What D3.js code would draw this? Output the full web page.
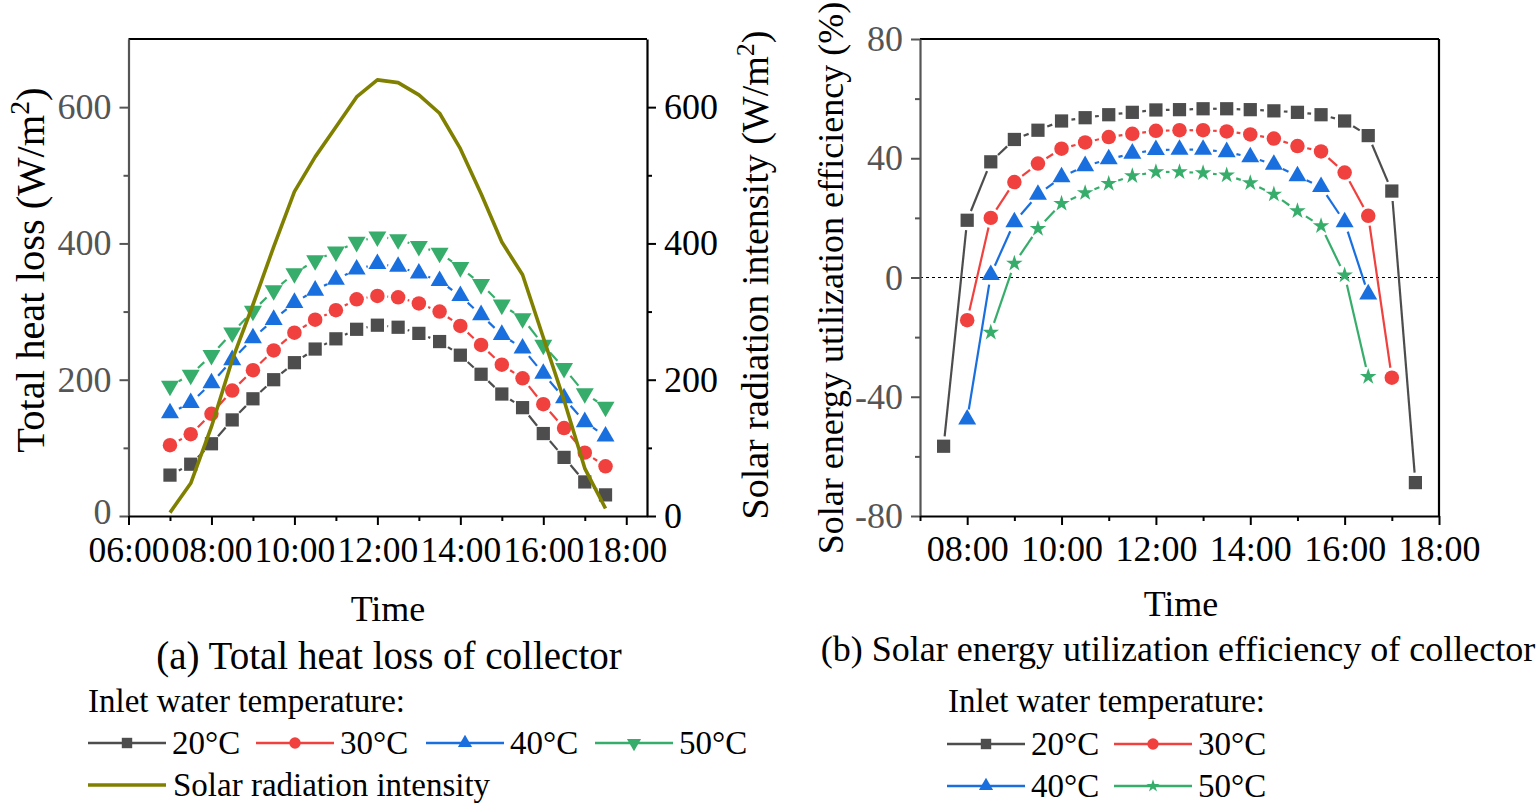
<!DOCTYPE html>
<html>
<head>
<meta charset="utf-8">
<script src="https://cdn.jsdelivr.net/npm/d3@7"></script>
<style>
  body { margin: 0; background: #fff; }
  svg { display: block; font-family: "Liberation Serif", "Times New Roman", serif; }
</style>
</head>
<body>
<svg id="fig" width="1536" height="807"></svg>
<script>
// ---- data ----

// (a) total heat loss, every half hour from 07:00 to 17:30
const hoursA = [7, 7.5, 8, 8.5, 9, 9.5, 10, 10.5, 11, 11.5, 12, 12.5, 13, 13.5, 14, 14.5, 15, 15.5, 16, 16.5, 17, 17.5];
const heatLoss20 = [60, 76, 106, 141, 172, 200, 225, 245, 260, 274, 280, 277, 268, 256, 236, 208, 179, 159, 121, 86, 50, 31];
const heatLoss30 = [104, 120, 150, 184, 214, 243, 269, 288, 302, 318, 323, 321, 312, 300, 279, 251, 222, 202, 164, 129, 93, 73];
const heatLoss40 = [151, 166, 195, 229, 261, 288, 313, 331, 347, 362, 370, 366, 356, 345, 323, 295, 266, 246, 209, 173, 138, 117];
const heatLoss50 = [191, 207, 236, 269, 301, 331, 356, 375, 388, 402, 410, 406, 396, 386, 365, 340, 310, 290, 251, 217, 180, 160];
const solarIntensity = [5, 48, 131, 229, 310, 395, 476, 527, 571, 615, 640, 636, 618, 591, 539, 473, 402, 354, 262, 170, 70, 11];

// (b) solar energy utilization efficiency
const hoursEff20 = [7.5, 8, 8.5, 9, 9.5, 10, 10.5, 11, 11.5, 12, 12.5, 13, 13.5, 14, 14.5, 15, 15.5, 16, 16.5, 17, 17.5];
const eff20 = [-56.6, 19.2, 38.8, 46.3, 49.4, 52.5, 53.6, 54.6, 55.4, 56.2, 56.3, 56.6, 56.6, 56.3, 55.9, 55.4, 54.6, 52.5, 47.6, 29, -68.8];
const hoursEff30 = [8, 8.5, 9, 9.5, 10, 10.5, 11, 11.5, 12, 12.5, 13, 13.5, 14, 14.5, 15, 15.5, 16, 16.5, 17];
const eff30 = [-14.3, 20, 32, 38.2, 43.2, 45.3, 47.1, 48.2, 49.2, 49.4, 49.4, 49, 48, 46.6, 44.1, 42.3, 35.2, 20.7, -33.6];
const hoursEff40 = [8, 8.5, 9, 9.5, 10, 10.5, 11, 11.5, 12, 12.5, 13, 13.5, 14, 14.5, 15, 15.5, 16, 16.5];
const eff40 = [-47.6, 0.9, 18.6, 27.8, 33.7, 37.4, 39.7, 41.6, 42.8, 42.9, 42.9, 42.1, 40.4, 37.9, 34, 30.4, 18.6, -5.6];
const hoursEff50 = [8.5, 9, 9.5, 10, 10.5, 11, 11.5, 12, 12.5, 13, 13.5, 14, 14.5, 15, 15.5, 16, 16.5];
const eff50 = [-18.4, 4.7, 16.4, 24.8, 28.4, 31.5, 34.1, 35.4, 35.4, 35.1, 34.3, 31.7, 27.9, 22.3, 17.3, 0.8, -33.3];

// ticks
const xMajorA = [6, 8, 10, 12, 14, 16, 18];
const xMinorA = [7, 9, 11, 13, 15, 17];
const xLabelsA = ["06:00", "08:00", "10:00", "12:00", "14:00", "16:00", "18:00"];
const xMajorB = [8, 10, 12, 14, 16, 18];
const xMinorB = [7, 9, 11, 13, 15, 17];
const xLabelsB = ["08:00", "10:00", "12:00", "14:00", "16:00", "18:00"];
const yMajorA = [0, 200, 400, 600];
const yMinorA = [100, 300, 500];
const yMajorB = [-80, -40, 0, 40, 80];
const yMinorB = [-60, -20, 20, 60];

const tempLabels = ["20°C", "30°C", "40°C", "50°C"];
const colors = ["#4d4d4d", "#f0413f", "#1a6fdf", "#37ad6b"];
const olive = "#808000";
const axisGray = "#555555";

const svg = d3.select("#fig");

// scales
const xA = d3.scaleLinear().domain([6, 18.5]).range([128.5, 647]);
const yA = d3.scaleLinear().domain([0, 700]).range([516, 39]);
const xB = d3.scaleLinear().domain([7, 18]).range([920, 1439]);
const yB = d3.scaleLinear().domain([-80, 80]).range([516, 39]);

// marker shapes
const markerA = [
  { type: d3.symbolSquare, size: 175, rot: 0 },
  { type: d3.symbolCircle, size: 165, rot: 0 },
  { type: d3.symbolTriangle, size: 140, rot: 0 },
  { type: d3.symbolTriangle, size: 140, rot: 180 }
];
const markerB = [
  { type: d3.symbolSquare, size: 175, rot: 0 },
  { type: d3.symbolCircle, size: 165, rot: 0 },
  { type: d3.symbolTriangle, size: 140, rot: 0 },
  { type: d3.symbolStar, size: 85, rot: 0 }
];

function styleAxis(g, lineColor, textColor, fontSize) {
  g.select(".domain").attr("stroke", lineColor).attr("stroke-width", 2.2);
  g.selectAll(".tick line").attr("stroke", lineColor).attr("stroke-width", 2);
  g.selectAll(".tick text")
    .attr("fill", textColor)
    .attr("font-size", fontSize)
    .attr("font-family", "Liberation Serif, Times New Roman, serif");
}

function addAxis(axis, tx, ty, lineColor, textColor, fontSize) {
  const g = svg.append("g").attr("transform", `translate(${tx},${ty})`).call(axis);
  styleAxis(g, lineColor, textColor, fontSize || 36);
  return g;
}

function minorAxis(axis, tx, ty, lineColor) {
  const g = svg.append("g").attr("transform", `translate(${tx},${ty})`).call(axis);
  g.select(".domain").remove();
  g.selectAll(".tick line").attr("stroke", lineColor).attr("stroke-width", 2);
  g.selectAll(".tick text").remove();
}

// plain hyphen for negative numbers, as in the original
const plainNum = d => String(d);

// line with a small gap before each symbol
function gapLine(pts, color, gap, width) {
  const segs = [];
  for (let i = 0; i < pts.length - 1; i++) {
    const [x0, y0] = pts[i], [x1, y1] = pts[i + 1];
    const dx = x1 - x0, dy = y1 - y0, len = Math.hypot(dx, dy);
    if (len <= 2 * gap) continue;
    const ux = dx / len, uy = dy / len;
    segs.push([x0 + ux * gap, y0 + uy * gap, x1 - ux * gap, y1 - uy * gap]);
  }
  svg.append("g").selectAll("line").data(segs).enter().append("line")
    .attr("x1", d => d[0]).attr("y1", d => d[1])
    .attr("x2", d => d[2]).attr("y2", d => d[3])
    .attr("stroke", color).attr("stroke-width", width);
}

function drawMarkers(pts, color, m) {
  svg.append("g").selectAll("path").data(pts).enter().append("path")
    .attr("d", d3.symbol().type(m.type).size(m.size)())
    .attr("transform", d => `translate(${d[0]},${d[1]}) rotate(${m.rot})`)
    .attr("fill", color);
}

function series(xs, ys, xScale, yScale, color, m, gap) {
  const pts = xs.map((h, i) => [xScale(h), yScale(ys[i])]);
  gapLine(pts, color, gap, 2.2);
  drawMarkers(pts, color, m);
}

// ================= (a) =================
// frame top
svg.append("line").attr("x1", xA.range()[0]).attr("x2", xA.range()[1])
  .attr("y1", yA.range()[1]).attr("y2", yA.range()[1])
  .attr("stroke", "#000").attr("stroke-width", 2.2);

const heatSeries = [heatLoss20, heatLoss30, heatLoss40, heatLoss50];
heatSeries.forEach((vals, k) => series(hoursA, vals, xA, yA, colors[k], markerA[k], 10));

// solar radiation (right axis, same range)
svg.append("path")
  .datum(hoursA.map((h, i) => [h, solarIntensity[i]]))
  .attr("fill", "none").attr("stroke", olive).attr("stroke-width", 3.6)
  .attr("stroke-linejoin", "round")
  .attr("d", d3.line().x(d => xA(d[0])).y(d => yA(d[1])));

minorAxis(d3.axisLeft(yA).tickValues(yMinorA).tickSize(5), xA.range()[0], 0, axisGray);
const leftAxisA = addAxis(d3.axisLeft(yA).tickValues(yMajorA).tickSize(9).tickPadding(8).tickSizeOuter(0), xA.range()[0], 0, axisGray, axisGray);
// the "0" label sits just above the time labels
leftAxisA.selectAll(".tick text").filter(d => d === 0).attr("dy", "0.2em");
minorAxis(d3.axisRight(yA).tickValues(yMinorA).tickSize(5), xA.range()[1], 0, "#000");
addAxis(d3.axisRight(yA).tickValues(yMajorA).tickSize(9).tickPadding(8).tickSizeOuter(0), xA.range()[1], 0, "#000", "#000");
minorAxis(d3.axisBottom(xA).tickValues(xMinorA).tickSize(5), 0, yA.range()[0], "#000");
addAxis(d3.axisBottom(xA).tickValues(xMajorA).tickFormat((d, i) => xLabelsA[i]).tickSize(9).tickPadding(12).tickSizeOuter(0),
  0, yA.range()[0], "#000", "#000", 35.5);

// ================= (b) =================
svg.append("line").attr("x1", xB.range()[0]).attr("x2", xB.range()[1])
  .attr("y1", yB.range()[1]).attr("y2", yB.range()[1])
  .attr("stroke", "#000").attr("stroke-width", 2.2);
svg.append("line").attr("x1", xB.range()[1]).attr("x2", xB.range()[1])
  .attr("y1", yB.range()[1]).attr("y2", yB.range()[0])
  .attr("stroke", "#000").attr("stroke-width", 2.2);

// zero reference line
svg.append("line").attr("x1", xB.range()[0]).attr("x2", xB.range()[1])
  .attr("y1", yB(0)).attr("y2", yB(0))
  .attr("stroke", "#000").attr("stroke-width", 1.2).attr("stroke-dasharray", "3,3");

const effHours = [hoursEff20, hoursEff30, hoursEff40, hoursEff50];
const effSeries = [eff20, eff30, eff40, eff50];
effSeries.forEach((vals, k) => series(effHours[k], vals, xB, yB, colors[k], markerB[k], 10));

minorAxis(d3.axisLeft(yB).tickValues(yMinorB).tickSize(5), xB.range()[0], 0, axisGray);
addAxis(d3.axisLeft(yB).tickValues(yMajorB).tickFormat(plainNum).tickSize(9).tickPadding(8).tickSizeOuter(0), xB.range()[0], 0, axisGray, axisGray);
minorAxis(d3.axisBottom(xB).tickValues(xMinorB).tickSize(5), 0, yB.range()[0], "#000");
addAxis(d3.axisBottom(xB).tickValues(xMajorB).tickFormat((d, i) => xLabelsB[i]).tickSize(9).tickPadding(10).tickSizeOuter(0),
  0, yB.range()[0], "#000", "#000");

// ================= titles =================
function text(x, y, str, size, anchor, rot) {
  return svg.append("text")
    .attr("transform", `translate(${x},${y})` + (rot ? ` rotate(${rot})` : ""))
    .attr("font-size", size).attr("text-anchor", anchor || "middle")
    .attr("fill", "#000").text(str);
}

function unitTitle(x, y, str, size) {
  const t = text(x, y, str, size, "middle", -90);
  t.append("tspan").text("m");
  t.append("tspan").attr("dy", -size * 0.38).attr("font-size", size * 0.68).text("2");
  t.append("tspan").attr("dy", size * 0.38).text(")");
}
unitTitle(44, 270, "Total heat loss (W/", 40.5);
unitTitle(768, 275, "Solar radiation intensity (W/", 38);
text(843, 278, "Solar energy utilization efficiency (%)", 36, "middle", -90);

text(388, 621, "Time", 36);
text(1181, 616, "Time", 36);
text(389, 669, "(a) Total heat loss of collector", 39);
text(1178, 661, "(b) Solar energy utilization efficiency of collector", 36);

// ================= legends =================
function legendItem(x, y, color, m, label) {
  svg.append("line").attr("x1", x).attr("x2", x + 78).attr("y1", y).attr("y2", y)
    .attr("stroke", color).attr("stroke-width", 2.6);
  if (m) {
    svg.append("path")
      .attr("d", d3.symbol().type(m.type).size(m.size * 0.62)())
      .attr("transform", `translate(${x + 39},${y}) rotate(${m.rot})`)
      .attr("fill", color);
  }
  text(x + 84, y + 11, label, 33, "start");
}

text(88, 712, "Inlet water temperature:", 33, "start");
const legXA = [88, 256, 426, 595];
tempLabels.forEach((lab, k) => legendItem(legXA[k], 743, colors[k], markerA[k], lab));
svg.append("line").attr("x1", 88).attr("x2", 166).attr("y1", 785).attr("y2", 785)
  .attr("stroke", olive).attr("stroke-width", 3.6);
text(173, 796, "Solar radiation intensity", 33, "start");

text(948, 712, "Inlet water temperature:", 33, "start");
const legXB = [947, 1114, 947, 1114];
const legYB = [744, 744, 786, 786];
tempLabels.forEach((lab, k) => legendItem(legXB[k], legYB[k], colors[k], markerB[k], lab));
</script>
</body>
</html>
